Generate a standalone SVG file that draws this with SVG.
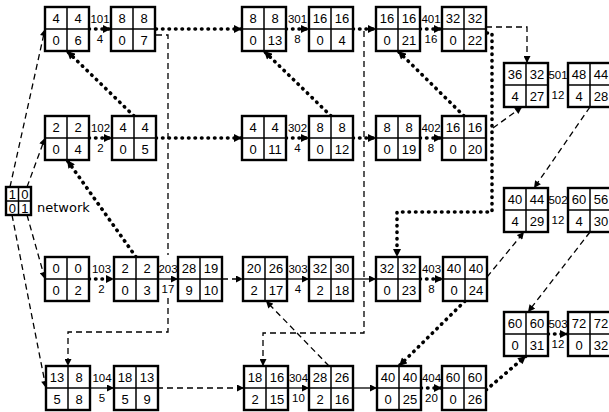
<svg xmlns="http://www.w3.org/2000/svg" xmlns:xlink="http://www.w3.org/1999/xlink" width="609" height="412" viewBox="0 0 609 412">
<style>
.t{font-family:"Liberation Sans",Arial,sans-serif;font-size:13px;text-anchor:middle;fill:#000}
.lb{font-family:"Liberation Sans",Arial,sans-serif;font-size:11.5px;text-anchor:middle;fill:#000}
.nw{font-family:"DejaVu Sans",sans-serif;font-size:13px;fill:#000}
.c{fill:none;stroke:#000;stroke-width:3.6;stroke-dasharray:0.5 6;stroke-linecap:round;marker-end:url(#ahc)}
.s{fill:none;stroke:#000;stroke-width:1.3;marker-end:url(#ah)}
.d{fill:none;stroke:#000;stroke-width:1.3;stroke-dasharray:6 4;marker-end:url(#ah)}
</style>
<defs>
<marker id="ah" viewBox="0 0 10 10" refX="10" refY="5" markerWidth="8" markerHeight="7" orient="auto" markerUnits="userSpaceOnUse"><path d="M0,0 L10,5 L0,10 z" fill="#000"/></marker>
<marker id="ahc" viewBox="0 0 10 10" refX="10" refY="5" markerWidth="9" markerHeight="8" orient="auto" markerUnits="userSpaceOnUse"><path d="M0,0 L10,5 L0,10 z" fill="#000"/></marker>
<g id="grid">
<rect x="0" y="0" width="44" height="44" fill="#fff" stroke="#000" stroke-width="2.4"/>
<path d="M22,0 V44 M0,22 H44" stroke="#000" stroke-width="1.5" fill="none"/>
</g>
</defs>
<rect width="609" height="412" fill="#fff"/>

<g id="connectors">
<path class="c" d="M89,29 H111"/>
<path class="c" d="M156,29 H242"/>
<path class="c" d="M286,29 H309"/>
<path class="c" d="M353,29 H376"/>
<path class="c" d="M420,29 H442"/>
<path class="c" d="M487,33 H492 V212 H397 V257"/>
<path class="c" d="M134,116 L67,51"/>
<path class="c" d="M331,116 L264,51"/>
<path class="c" d="M464,116 L398,51"/>
<path class="c" d="M89,138 H112"/>
<path class="c" d="M156,138 H242"/>
<path class="c" d="M286,138 H309"/>
<path class="c" d="M353,138 H376"/>
<path class="c" d="M420,138 H442"/>
<path class="c" d="M136,257 L67,160"/>
<path class="c" d="M89,279 H114"/>
<path class="c" d="M420,279 H443"/>
<path class="c" d="M465,301 L399,366"/>
<path class="c" d="M421,388 H442"/>
<path class="c" d="M486,390 L526,356"/>
<path class="c" d="M548,334 H568"/>
<path class="s" d="M158,279 H178"/>
<path class="s" d="M287,279 H309"/>
<path class="s" d="M353,279 H376"/>
<path class="s" d="M90,388 H114"/>
<path class="s" d="M288,388 H309"/>
<path class="s" d="M353,388 H377"/>
<path class="d" d="M10,187 L45,29"/>
<path class="d" d="M27,187 L45,138"/>
<path class="d" d="M27,215 L45,279"/>
<path class="d" d="M12,215 L46,388"/>
<path class="d" d="M156,35 H168 V255 M168,298 V332 H68 V366"/>
<path class="d" d="M364,31 V333 H263 V366"/>
<path class="d" d="M222,279 H243"/>
<path class="d" d="M329,366 L266,301"/>
<path class="d" d="M157,388 H244"/>
<path class="d" d="M486,27 H527 V63"/>
<path class="d" d="M493,128 L522,107"/>
<path class="d" d="M590,107 L534,188"/>
<path class="d" d="M487,277 L524,232"/>
<path class="d" d="M590,232 L528,312"/>
</g>

<g id="labels">
<text class="lb" x="100" y="23">101</text><text class="lb" x="100" y="43">4</text>
<text class="lb" x="297.5" y="23">301</text><text class="lb" x="297.5" y="43">8</text>
<text class="lb" x="431" y="23">401</text><text class="lb" x="431" y="43">16</text>
<text class="lb" x="558" y="79">501</text><text class="lb" x="558" y="99">12</text>
<text class="lb" x="100.5" y="132">102</text><text class="lb" x="100.5" y="152">2</text>
<text class="lb" x="297.5" y="132">302</text><text class="lb" x="297.5" y="152">4</text>
<text class="lb" x="431" y="132">402</text><text class="lb" x="431" y="152">8</text>
<text class="lb" x="558" y="204">502</text><text class="lb" x="558" y="224">12</text>
<text class="lb" x="101.5" y="273">103</text><text class="lb" x="101.5" y="293">2</text>
<text class="lb" x="168" y="273">203</text><text class="lb" x="168" y="293">17</text>
<text class="lb" x="298" y="273">303</text><text class="lb" x="298" y="293">4</text>
<text class="lb" x="431.5" y="273">403</text><text class="lb" x="431.5" y="293">8</text>
<text class="lb" x="558" y="328">503</text><text class="lb" x="558" y="348">12</text>
<text class="lb" x="102" y="382">104</text><text class="lb" x="102" y="402">5</text>
<text class="lb" x="298.5" y="382">304</text><text class="lb" x="298.5" y="402">10</text>
<text class="lb" x="431.5" y="382">404</text><text class="lb" x="431.5" y="402">20</text>
</g>

<g id="network">
<rect x="6" y="187" width="25" height="28" fill="#fff" stroke="#000" stroke-width="2.4"/>
<path d="M18.5,187 V215 M6,201 H31" stroke="#000" stroke-width="1.5"/>
<text class="t" x="12.3" y="198.5">1</text><text class="t" x="24.8" y="198.5">0</text>
<text class="t" x="12.3" y="212.5">0</text><text class="t" x="24.8" y="212.5">1</text>
<text class="nw" x="37" y="212">network</text>
</g>

<g id="n1" transform="translate(45,7)"><use xlink:href="#grid"/><text class="t" x="11" y="15.5">4</text><text class="t" x="33" y="15.5">4</text><text class="t" x="11" y="37.5">0</text><text class="t" x="33" y="37.5">6</text></g>
<g id="n2" transform="translate(111,7)"><use xlink:href="#grid"/><text class="t" x="11" y="15.5">8</text><text class="t" x="33" y="15.5">8</text><text class="t" x="11" y="37.5">0</text><text class="t" x="33" y="37.5">7</text></g>
<g id="n3" transform="translate(242,7)"><use xlink:href="#grid"/><text class="t" x="11" y="15.5">8</text><text class="t" x="33" y="15.5">8</text><text class="t" x="11" y="37.5">0</text><text class="t" x="33" y="37.5">13</text></g>
<g id="n4" transform="translate(309,7)"><use xlink:href="#grid"/><text class="t" x="11" y="15.5">16</text><text class="t" x="33" y="15.5">16</text><text class="t" x="11" y="37.5">0</text><text class="t" x="33" y="37.5">4</text></g>
<g id="n5" transform="translate(376,7)"><use xlink:href="#grid"/><text class="t" x="11" y="15.5">16</text><text class="t" x="33" y="15.5">16</text><text class="t" x="11" y="37.5">0</text><text class="t" x="33" y="37.5">21</text></g>
<g id="n6" transform="translate(442,7)"><use xlink:href="#grid"/><text class="t" x="11" y="15.5">32</text><text class="t" x="33" y="15.5">32</text><text class="t" x="11" y="37.5">0</text><text class="t" x="33" y="37.5">22</text></g>
<g id="n7" transform="translate(504,63)"><use xlink:href="#grid"/><text class="t" x="11" y="15.5">36</text><text class="t" x="33" y="15.5">32</text><text class="t" x="11" y="37.5">4</text><text class="t" x="33" y="37.5">27</text></g>
<g id="n8" transform="translate(568,63)"><use xlink:href="#grid"/><text class="t" x="11" y="15.5">48</text><text class="t" x="33" y="15.5">44</text><text class="t" x="11" y="37.5">4</text><text class="t" x="33" y="37.5">28</text></g>
<g id="n9" transform="translate(45,116)"><use xlink:href="#grid"/><text class="t" x="11" y="15.5">2</text><text class="t" x="33" y="15.5">2</text><text class="t" x="11" y="37.5">0</text><text class="t" x="33" y="37.5">4</text></g>
<g id="n10" transform="translate(112,116)"><use xlink:href="#grid"/><text class="t" x="11" y="15.5">4</text><text class="t" x="33" y="15.5">4</text><text class="t" x="11" y="37.5">0</text><text class="t" x="33" y="37.5">5</text></g>
<g id="n11" transform="translate(242,116)"><use xlink:href="#grid"/><text class="t" x="11" y="15.5">4</text><text class="t" x="33" y="15.5">4</text><text class="t" x="11" y="37.5">0</text><text class="t" x="33" y="37.5">11</text></g>
<g id="n12" transform="translate(309,116)"><use xlink:href="#grid"/><text class="t" x="11" y="15.5">8</text><text class="t" x="33" y="15.5">8</text><text class="t" x="11" y="37.5">0</text><text class="t" x="33" y="37.5">12</text></g>
<g id="n13" transform="translate(376,116)"><use xlink:href="#grid"/><text class="t" x="11" y="15.5">8</text><text class="t" x="33" y="15.5">8</text><text class="t" x="11" y="37.5">0</text><text class="t" x="33" y="37.5">19</text></g>
<g id="n14" transform="translate(442,116)"><use xlink:href="#grid"/><text class="t" x="11" y="15.5">16</text><text class="t" x="33" y="15.5">16</text><text class="t" x="11" y="37.5">0</text><text class="t" x="33" y="37.5">20</text></g>
<g id="n15" transform="translate(504,188)"><use xlink:href="#grid"/><text class="t" x="11" y="15.5">40</text><text class="t" x="33" y="15.5">44</text><text class="t" x="11" y="37.5">4</text><text class="t" x="33" y="37.5">29</text></g>
<g id="n16" transform="translate(568,188)"><use xlink:href="#grid"/><text class="t" x="11" y="15.5">60</text><text class="t" x="33" y="15.5">56</text><text class="t" x="11" y="37.5">4</text><text class="t" x="33" y="37.5">30</text></g>
<g id="n17" transform="translate(45,257)"><use xlink:href="#grid"/><text class="t" x="11" y="15.5">0</text><text class="t" x="33" y="15.5">0</text><text class="t" x="11" y="37.5">0</text><text class="t" x="33" y="37.5">2</text></g>
<g id="n18" transform="translate(114,257)"><use xlink:href="#grid"/><text class="t" x="11" y="15.5">2</text><text class="t" x="33" y="15.5">2</text><text class="t" x="11" y="37.5">0</text><text class="t" x="33" y="37.5">3</text></g>
<g id="n19" transform="translate(178,257)"><use xlink:href="#grid"/><text class="t" x="11" y="15.5">28</text><text class="t" x="33" y="15.5">19</text><text class="t" x="11" y="37.5">9</text><text class="t" x="33" y="37.5">10</text></g>
<g id="n20" transform="translate(243,257)"><use xlink:href="#grid"/><text class="t" x="11" y="15.5">20</text><text class="t" x="33" y="15.5">26</text><text class="t" x="11" y="37.5">2</text><text class="t" x="33" y="37.5">17</text></g>
<g id="n21" transform="translate(309,257)"><use xlink:href="#grid"/><text class="t" x="11" y="15.5">32</text><text class="t" x="33" y="15.5">30</text><text class="t" x="11" y="37.5">2</text><text class="t" x="33" y="37.5">18</text></g>
<g id="n22" transform="translate(376,257)"><use xlink:href="#grid"/><text class="t" x="11" y="15.5">32</text><text class="t" x="33" y="15.5">32</text><text class="t" x="11" y="37.5">0</text><text class="t" x="33" y="37.5">23</text></g>
<g id="n23" transform="translate(443,257)"><use xlink:href="#grid"/><text class="t" x="11" y="15.5">40</text><text class="t" x="33" y="15.5">40</text><text class="t" x="11" y="37.5">0</text><text class="t" x="33" y="37.5">24</text></g>
<g id="n24" transform="translate(504,312)"><use xlink:href="#grid"/><text class="t" x="11" y="15.5">60</text><text class="t" x="33" y="15.5">60</text><text class="t" x="11" y="37.5">0</text><text class="t" x="33" y="37.5">31</text></g>
<g id="n25" transform="translate(568,312)"><use xlink:href="#grid"/><text class="t" x="11" y="15.5">72</text><text class="t" x="33" y="15.5">72</text><text class="t" x="11" y="37.5">0</text><text class="t" x="33" y="37.5">32</text></g>
<g id="n26" transform="translate(46,366)"><use xlink:href="#grid"/><text class="t" x="11" y="15.5">13</text><text class="t" x="33" y="15.5">8</text><text class="t" x="11" y="37.5">5</text><text class="t" x="33" y="37.5">8</text></g>
<g id="n27" transform="translate(114,366)"><use xlink:href="#grid"/><text class="t" x="11" y="15.5">18</text><text class="t" x="33" y="15.5">13</text><text class="t" x="11" y="37.5">5</text><text class="t" x="33" y="37.5">9</text></g>
<g id="n28" transform="translate(244,366)"><use xlink:href="#grid"/><text class="t" x="11" y="15.5">18</text><text class="t" x="33" y="15.5">16</text><text class="t" x="11" y="37.5">2</text><text class="t" x="33" y="37.5">15</text></g>
<g id="n29" transform="translate(309,366)"><use xlink:href="#grid"/><text class="t" x="11" y="15.5">28</text><text class="t" x="33" y="15.5">26</text><text class="t" x="11" y="37.5">2</text><text class="t" x="33" y="37.5">16</text></g>
<g id="n30" transform="translate(377,366)"><use xlink:href="#grid"/><text class="t" x="11" y="15.5">40</text><text class="t" x="33" y="15.5">40</text><text class="t" x="11" y="37.5">0</text><text class="t" x="33" y="37.5">25</text></g>
<g id="n31" transform="translate(442,366)"><use xlink:href="#grid"/><text class="t" x="11" y="15.5">60</text><text class="t" x="33" y="15.5">60</text><text class="t" x="11" y="37.5">0</text><text class="t" x="33" y="37.5">26</text></g>
</svg>
